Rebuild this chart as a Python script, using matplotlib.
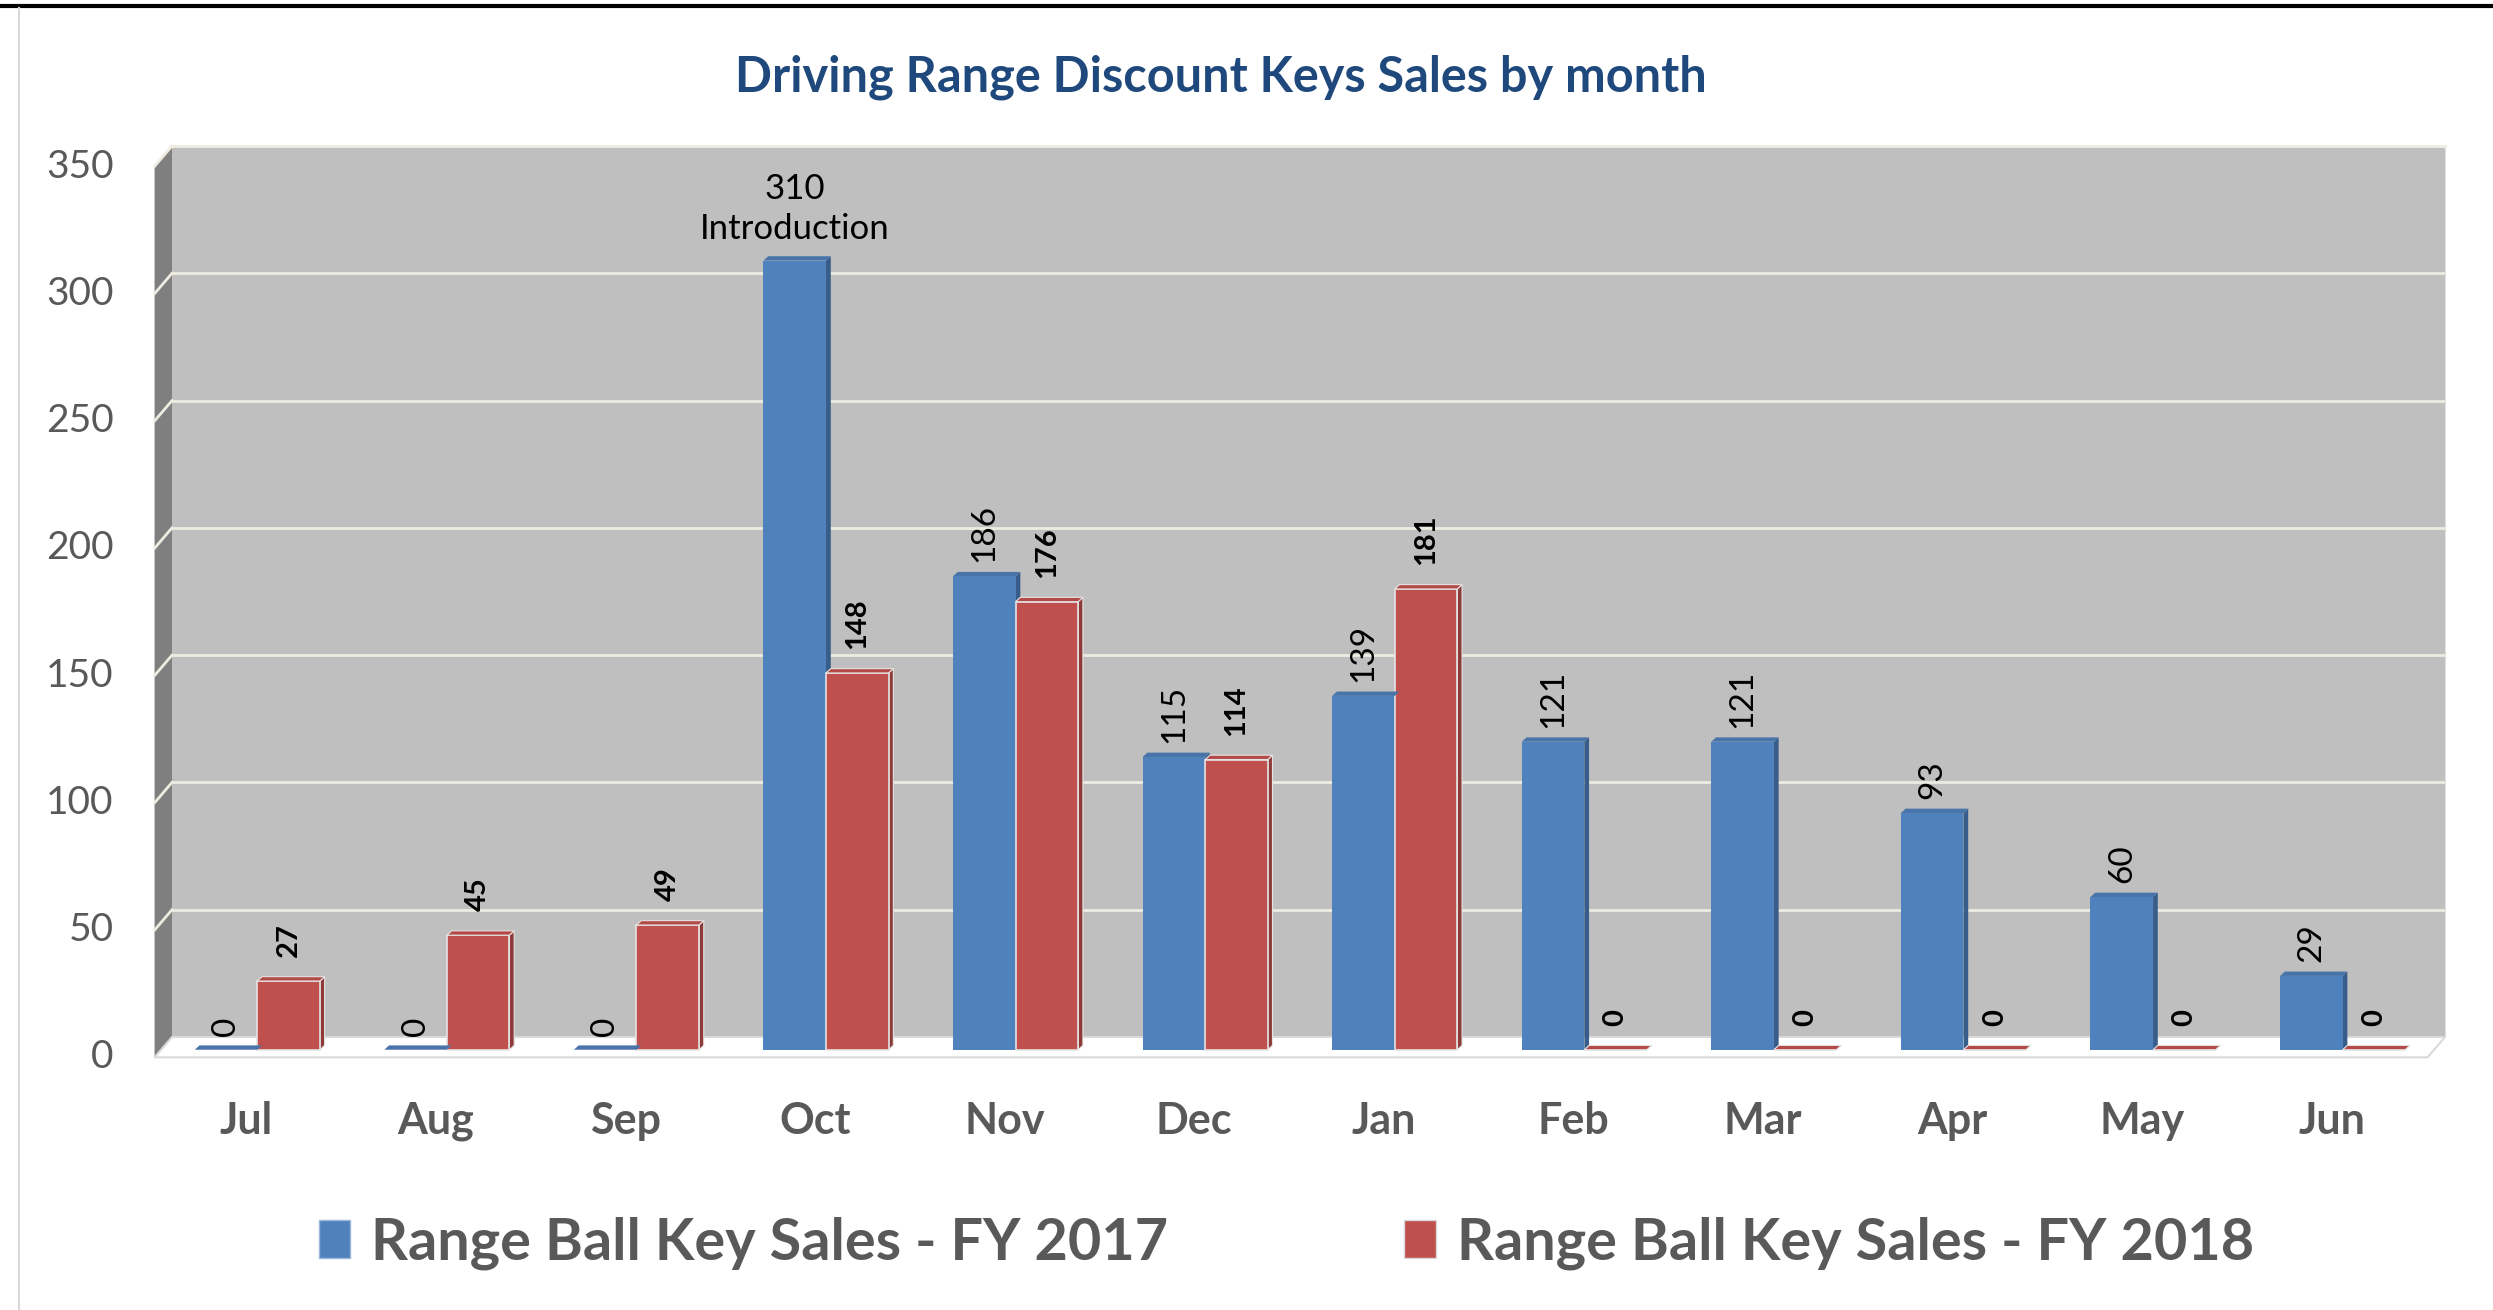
import matplotlib
matplotlib.use('Agg')
import matplotlib.pyplot as plt
from matplotlib.patches import Polygon, Patch
from matplotlib.lines import Line2D
from matplotlib.transforms import ScaledTranslation

# ---------------- data ----------------
months = ['Jul', 'Aug', 'Sep', 'Oct', 'Nov', 'Dec', 'Jan', 'Feb', 'Mar', 'Apr', 'May', 'Jun']
fy2017 = [0, 0, 0, 310, 186, 115, 139, 121, 121, 93, 60, 29]
fy2018 = [27, 45, 49, 148, 176, 114, 181, 0, 0, 0, 0, 0]
series_names = ['Range Ball Key Sales - FY 2017', 'Range Ball Key Sales - FY 2018']
note_month = 'Oct'
note_text = 'Introduction'
yticks = [0, 50, 100, 150, 200, 250, 300, 350]
title = 'Driving Range Discount Keys Sales by month'

# ---------------- style ----------------
plt.rcParams['font.family'] = ['Lato', 'DejaVu Sans']
W, H, DPI = 2493, 1310, 100
BLUE, BLUE_SIDE, BLUE_TOP = '#4F81BD', '#385D8A', '#4874AA'
RED, RED_SIDE, RED_TOP = '#C0504D', '#8E3A38', '#B44A47'
WALL = '#BFBFBF'
GRID = '#EEECE1'
GREY_TXT = '#595959'

fig = plt.figure(figsize=(W / DPI, H / DPI), dpi=DPI)

# frame decorations
fig.add_artist(Line2D([0, 1], [1 - 6 / H, 1 - 6 / H], color='black', lw=3, transform=fig.transFigure))
fig.add_artist(Line2D([19 / W, 19 / W], [0, 1 - 8 / H], color='#D9D9D9', lw=1.5, transform=fig.transFigure))

ax = fig.add_axes([172 / W, 1 - 1037 / H, (2445 - 172) / W, (1037 - 146) / H])
ax.set_facecolor(WALL)
for s in ax.spines.values():
    s.set_visible(False)
ax.spines['right'].set_visible(True)
ax.spines['right'].set_color('#E0E0E0')
ax.spines['top'].set_visible(True)
ax.spines['top'].set_color(GRID)
ax.spines['top'].set_linewidth(2)

xl, xr = -0.45, 11.54
ax.set_xlim(xl, xr)
ax.set_ylim(0, 350)
ax.set_yticks(yticks)
ax.grid(axis='y', color=GRID, lw=2)
ax.set_axisbelow(True)

x = list(range(len(months)))
bw = 0.33
# 3D depth (style)
ddx, ddy = 0.092, 8.0        # wall / floor depth
bdx, bdy = 0.025, 1.7        # bar depth
base = -5.0                  # bars stand slightly in front of the back wall

# left wall and floor
ax.add_patch(Polygon([(xl, 0), (xl, 350), (xl - ddx, 350 - ddy), (xl - ddx, -ddy)],
                     closed=True, facecolor='#7F7F7F', edgecolor='none', clip_on=False, zorder=0))
for t in yticks[1:]:
    ax.add_line(Line2D([xl, xl - ddx], [t, t - ddy], color=GRID, lw=2, clip_on=False, zorder=0.5))
ax.add_patch(Polygon([(xl, 0), (xr, 0), (xr - ddx, -ddy), (xl - ddx, -ddy)],
                     closed=True, facecolor='white', edgecolor='#D9D9D9', lw=1.5, clip_on=False, zorder=0.6))

bars1 = ax.bar([i - bw / 2 for i in x], fy2017, width=bw, bottom=base, color=BLUE, edgecolor='none',
               zorder=3, clip_on=False)
bars2 = ax.bar([i + bw / 2 for i in x], fy2018, width=bw, bottom=base, color=RED, edgecolor='#E4E4E4',
               lw=1.2, zorder=3, clip_on=False)


def add_3d(bars, side, top, edge):
    for b in bars:
        x0, y0 = b.get_x(), b.get_y()
        w, h = b.get_width(), b.get_height()
        x1, y1 = x0 + w, y0 + h
        ax.add_patch(Polygon([(x1, y0), (x1 + bdx, y0 + bdy), (x1 + bdx, y1 + bdy), (x1, y1)],
                             closed=True, facecolor=side, edgecolor=edge, lw=0.8, zorder=2.9, clip_on=False))
        ax.add_patch(Polygon([(x0, y1), (x0 + bdx, y1 + bdy), (x1 + bdx, y1 + bdy), (x1, y1)],
                             closed=True, facecolor=top, edgecolor=edge, lw=0.8, zorder=3.1, clip_on=False))


add_3d(bars1, BLUE_SIDE, BLUE_TOP, 'none')
add_3d(bars2, RED_SIDE, RED_TOP, '#E4E4E4')

# data labels
for i, (b, v) in enumerate(zip(bars1, fy2017)):
    cx = b.get_x() + b.get_width() / 2
    top_y = b.get_y() + b.get_height()
    if months[i] == note_month:
        ax.annotate(f'{v}\n{note_text}', (cx, top_y), xytext=(0, 16), textcoords='offset pixels',
                    ha='center', va='bottom', fontsize=25, color='black', linespacing=1.28, zorder=5,
                    annotation_clip=False)
    else:
        ax.annotate(f'{v}', (cx, top_y), xytext=(0, 14), textcoords='offset pixels',
                    ha='center', va='bottom', rotation=90, fontsize=24, color='black', zorder=5,
                    annotation_clip=False)
for b, v in zip(bars2, fy2018):
    cx = b.get_x() + b.get_width() / 2
    top_y = b.get_y() + b.get_height()
    ax.annotate(f'{v}', (cx, top_y), xytext=(0, 24), textcoords='offset pixels',
                ha='center', va='bottom', rotation=90, fontsize=21, fontweight='bold', color='black', zorder=5,
                annotation_clip=False)

# ticks
ax.set_xticks(x)
ax.set_xticklabels(months, fontsize=31, fontweight='bold', color=GREY_TXT)
ax.set_yticklabels([str(t) for t in yticks], fontsize=28, color=GREY_TXT)
ax.tick_params(axis='both', length=0)
ax.tick_params(axis='x', pad=46)
ax.tick_params(axis='y', pad=42)
offx = ScaledTranslation(-11 / DPI, 0, fig.dpi_scale_trans)
offy = ScaledTranslation(0, -17 / DPI, fig.dpi_scale_trans)
for lab in ax.get_xticklabels():
    lab.set_transform(lab.get_transform() + offx)
for lab in ax.get_yticklabels():
    lab.set_transform(lab.get_transform() + offy)

# title
fig.text(1221 / W, 1 - 77 / H, title, ha='center', va='center', fontsize=35,
         fontweight='bold', color='#1F497D')

# legend
handles = [Patch(facecolor=BLUE, edgecolor='#9DB6D9', label=series_names[0]),
           Patch(facecolor=RED, edgecolor='#D9D9D9', label=series_names[1])]
leg = fig.legend(handles=handles, loc='center', bbox_to_anchor=(0.516, 1 - 1243 / H), ncol=2,
                 frameon=False, handlelength=0.55, handleheight=0.62, handletextpad=0.36,
                 columnspacing=4.1, prop={'size': 41.5, 'weight': 'bold'})
for t in leg.get_texts():
    t.set_color(GREY_TXT)

fig.savefig('out.png', dpi=DPI)
